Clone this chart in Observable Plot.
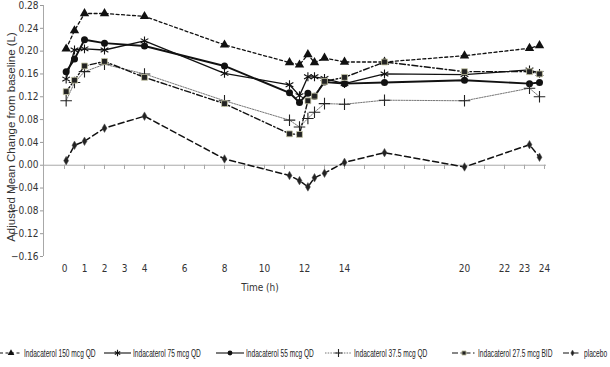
<!DOCTYPE html>
<html><head><meta charset="utf-8">
<script src="https://cdn.jsdelivr.net/npm/d3@7"></script>
<script src="https://cdn.jsdelivr.net/npm/@observablehq/plot@0.6"></script>
<style>
body{margin:0;background:#fff;}
#wrap{position:relative;width:610px;height:367px;overflow:hidden;background:#fff;}
#chart{position:absolute;left:0;top:0;}
.leg{position:absolute;top:346px;height:14px;display:flex;align-items:center;white-space:nowrap;}
.leg svg{display:block;}
.leg span{display:inline-block;font:11px "Liberation Sans",Arial,sans-serif;color:#222;transform:scaleX(0.6);transform-origin:left center;margin-left:2px;}
</style></head><body><div id="wrap"><div id="chart"></div><div id="legend"></div></div>
<script>
// time points (h)
const times = [0.083, 0.5, 1, 2, 4, 8, 11.25, 11.75, 12.17, 12.5, 13, 14, 16, 20, 23.25, 23.75];
// adjusted mean change from baseline (L)
const ind150 = [0.204, 0.236, 0.266, 0.266, 0.261, 0.211, 0.180, 0.176, 0.194, 0.180, 0.188, 0.181, 0.181, 0.192, 0.205, 0.210];
const ind75  = [0.151, 0.202, 0.204, 0.202, 0.218, 0.161, 0.141, 0.122, 0.155, 0.155, 0.152, 0.143, 0.160, 0.159, 0.167, 0.161];
const ind55  = [0.164, 0.186, 0.220, 0.214, 0.209, 0.174, 0.127, 0.110, 0.126, 0.121, 0.146, 0.143, 0.145, 0.149, 0.143, 0.145];
const ind375 = [0.113, 0.145, 0.164, 0.177, 0.160, 0.113, 0.079, 0.067, 0.082, 0.093, 0.108, 0.107, 0.114, 0.113, 0.135, 0.120];
const ind275 = [0.129, 0.149, 0.174, 0.182, 0.154, 0.108, 0.055, 0.054, 0.113, 0.121, 0.147, 0.154, 0.181, 0.164, 0.164, 0.160];
const placebo = [0.008, 0.035, 0.042, 0.065, 0.086, 0.011, -0.018, -0.027, -0.038, -0.022, -0.014, 0.005, 0.022, -0.003, 0.036, 0.014];

const seriesNames = ["Indacaterol 150 mcg QD", "Indacaterol 75 mcg QD", "Indacaterol 55 mcg QD",
  "Indacaterol 37.5 mcg QD", "Indacaterol 27.5 mcg BID", "placebo"];
const yTicks = [-0.16, -0.12, -0.08, -0.04, 0.00, 0.04, 0.08, 0.12, 0.16, 0.20, 0.24, 0.28];
const xTickLabels = [0, 1, 2, 3, 4, 6, 8, 10, 12, 14, 20, 22, 23, 24];
const hourTicks = d3.range(0, 25);
const yLabel = "Adjusted Mean Change from baseline (L)";
const xLabel = "Time (h)";

const seriesValues = [ind150, ind75, ind55, ind375, ind275, placebo];
const styles = [
  {stroke:"#111", width:1.3, dash:"3,2.5", symbol:"triangle", r:3.5, fill:"#111", mstroke:"none", mw:0},
  {stroke:"#111", width:1.3, dash:null, symbol:"asterisk", r:4.2, fill:"none", mstroke:"#111", mw:1.1},
  {stroke:"#111", width:1.9, dash:null, symbol:"circle", r:3.5, fill:"#111", mstroke:"none", mw:0},
  {stroke:"#666", width:0.9, dash:"1.5,1.2", symbol:"plus", r:3.8, fill:"none", mstroke:"#222", mw:1.1},
  {stroke:"#111", width:1.4, dash:"6,2.5,1.5,2.5", symbol:"square", r:3.3, fill:"#222", mstroke:"#c8c8a8", mw:0.8},
  {stroke:"#111", width:1.5, dash:"6,3.5", symbol:"diamond", r:2.6, fill:"#222", mstroke:"#555", mw:0.5}
];

const rowsBySeries = seriesValues.map((vals, k) => times.map((t, i) => ({t, v: vals[i], s: seriesNames[k]})));

const xMin = -1.05, xMax = 24.1;
const font = "'Liberation Sans Narrow','DejaVu Sans Condensed','Liberation Sans',Arial,sans-serif";

const marks = [
  Plot.ruleY([0], {stroke:"#a8a8a8"}),
  Plot.ruleX([xMin], {stroke:"#a8a8a8"}),
  Plot.ruleX(hourTicks, {x: d => d, y1: 0, y2: -0.0075, stroke:"#a8a8a8"}),
];
rowsBySeries.forEach((rows, k) => {
  const st = styles[k];
  marks.push(Plot.line(rows, {x:"t", y:"v", stroke: st.stroke, strokeWidth: st.width, strokeDasharray: st.dash || undefined}));
});
rowsBySeries.forEach((rows, k) => {
  const st = styles[k];
  marks.push(Plot.dot(rows, {x:"t", y:"v", symbol: st.symbol, r: st.r, fill: st.fill, stroke: st.mstroke, strokeWidth: st.mw}));
});
marks.push(
  Plot.axisY(yTicks, {tickFormat: d3.format(".2f"), tickSize: 3, tickPadding: 2, label: null, stroke:"#999", fill:"#333"}),
  Plot.axisX(xTickLabels, {tickSize: 0, tickPadding: 8, label: null, fill:"#333"}),
  Plot.text([xLabel], {text: d => d, frameAnchor:"bottom", dx:-35, dy:34, fill:"#333", fontSize:10}),
  Plot.text([yLabel], {text: d => d, frameAnchor:"left", textAnchor:"middle", lineAnchor:"middle", rotate:-90, dx:-32, dy:6, fill:"#333", fontSize:11.5, fontFamily:"'Liberation Sans',Arial,sans-serif"})
);

const chart = Plot.plot({
  width: 610, height: 330,
  marginLeft: 43, marginRight: 64, marginTop: 5, marginBottom: 74,
  x: {domain: [xMin, xMax]},
  y: {domain: [-0.16, 0.28]},
  style: {fontFamily: font, fontSize: "10px", background: "#fff"},
  marks
});
document.getElementById("chart").appendChild(chart);

// legend
const legendPos = [[0, 22], [104, 27], [216, 28], [325, 27], [452, 24], [563, 19]];
const symMap = {triangle: d3.symbolTriangle, asterisk: d3.symbolAsterisk, circle: d3.symbolCircle,
  plus: d3.symbolPlus, square: d3.symbolSquare, diamond: d3.symbolDiamond};
const legend = document.getElementById("legend");
seriesNames.forEach((name, k) => {
  const st = styles[k];
  const [left, w] = legendPos[k];
  const item = document.createElement("div");
  item.className = "leg";
  item.style.left = left + "px";
  const svg = d3.create("svg").attr("width", w).attr("height", 10);
  svg.append("line").attr("x1", 0).attr("x2", w).attr("y1", 5).attr("y2", 5)
    .attr("stroke", st.stroke).attr("stroke-width", Math.min(st.width, 1.1))
    .attr("stroke-dasharray", st.dash ? st.dash : null);
  const rr = st.r * 0.7;
  svg.append("path").attr("transform", `translate(${w/2},5)`)
    .attr("d", d3.symbol(symMap[st.symbol], rr * rr * Math.PI)())
    .attr("fill", st.fill).attr("stroke", st.mstroke).attr("stroke-width", st.mw);
  item.appendChild(svg.node());
  const span = document.createElement("span");
  span.textContent = name;
  item.appendChild(span);
  legend.appendChild(item);
});
</script></body></html>
